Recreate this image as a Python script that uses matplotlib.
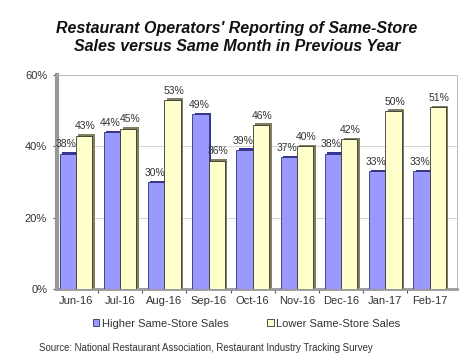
import matplotlib
matplotlib.use("Agg")
import matplotlib.pyplot as plt
import matplotlib.transforms as mtransforms
from matplotlib.patches import Patch
import numpy as np

months = ["Jun-16", "Jul-16", "Aug-16", "Sep-16", "Oct-16", "Nov-16", "Dec-16", "Jan-17", "Feb-17"]
higher = [38, 44, 30, 49, 39, 37, 38, 33, 33]
lower = [43, 45, 53, 36, 46, 40, 42, 50, 51]
yticks = [0, 20, 40, 60]

plt.rcParams['font.family'] = ['Liberation Sans', 'DejaVu Sans']

fig = plt.figure(figsize=(4.74, 3.57), dpi=100)
ax = fig.add_axes([0.120, 0.190, 0.844, 0.600])

x = np.arange(len(months))
w = 0.37
blue = "#9999FF"
yellow = "#FFFFCC"

# shadow (3D side) offsets
shadow = mtransforms.offset_copy(ax.transData, fig=fig, x=2.5, y=1.5, units='dots')
ax.bar(x - w/2, higher, w, color="#333399", transform=shadow, zorder=2, linewidth=0)
ax.bar(x + w/2, lower, w, color="#808060", transform=shadow, zorder=2, linewidth=0)
ax.bar(x - w/2, higher, w, color=blue, edgecolor="#333366", linewidth=0.6, zorder=3)
ax.bar(x + w/2, lower, w, color=yellow, edgecolor="#333333", linewidth=0.6, zorder=3)

for xi, v in zip(x, higher):
    ax.annotate(f"{v}%", (xi - w/2, v), xytext=(-1, 3), textcoords='offset points',
                ha='center', va='bottom', fontsize=7.5, color="#333333", zorder=4)
for xi, v in zip(x, lower):
    ax.annotate(f"{v}%", (xi + w/2, v), xytext=(1, 3), textcoords='offset points',
                ha='center', va='bottom', fontsize=7.5, color="#333333", zorder=4)

ax.set_xlim(-0.43, 8.62)
ax.set_ylim(0, 60)
ax.set_yticks(yticks)
ax.set_yticklabels([f"{t}%" for t in yticks], fontsize=8, color="#333333")
ax.set_xticks(x)
ax.set_xticklabels(months, fontsize=8, color="#333333")
ax.tick_params(axis='x', length=0, pad=5)
ax.tick_params(axis='y', length=3, width=0.8, color="#555555", pad=4)
ax.set_xticks(np.arange(0.5, 8.5, 1), minor=True)
ax.tick_params(axis='x', which='minor', length=3, width=0.8, color="#555555")

ax.grid(axis='y', color="#CCCCCC", linewidth=0.6, zorder=0)
ax.set_axisbelow(True)
for s in ['top', 'right']:
    ax.spines[s].set_color("#BBBBBB")
    ax.spines[s].set_linewidth(0.7)
ax.spines['left'].set_color("#999999")
ax.spines['left'].set_linewidth(3)
ax.spines['bottom'].set_color("#999999")
ax.spines['bottom'].set_linewidth(2)

fig.text(0.5, 0.895, "Restaurant Operators' Reporting of Same-Store\nSales versus Same Month in Previous Year",
         ha='center', va='center', fontsize=11.5, fontweight='bold', fontstyle='italic',
         color="#111111", linespacing=1.2)

handles = [Patch(facecolor=blue, edgecolor="#333366", linewidth=0.6),
           Patch(facecolor=yellow, edgecolor="#333333", linewidth=0.6)]
fig.legend(handles, ["Higher Same-Store Sales", "Lower Same-Store Sales"],
           loc='center', bbox_to_anchor=(0.52, 0.093), ncol=2, frameon=False,
           fontsize=8, handlelength=0.6, handleheight=0.6, handletextpad=0.2,
           columnspacing=3.5, labelcolor="#333333")

fig.text(0.083, 0.024, "Source: National Restaurant Association, Restaurant Industry Tracking Survey",
         ha='left', va='center', fontsize=6.9, color="#333333")

fig.savefig("out.png", dpi=100, facecolor="white")
